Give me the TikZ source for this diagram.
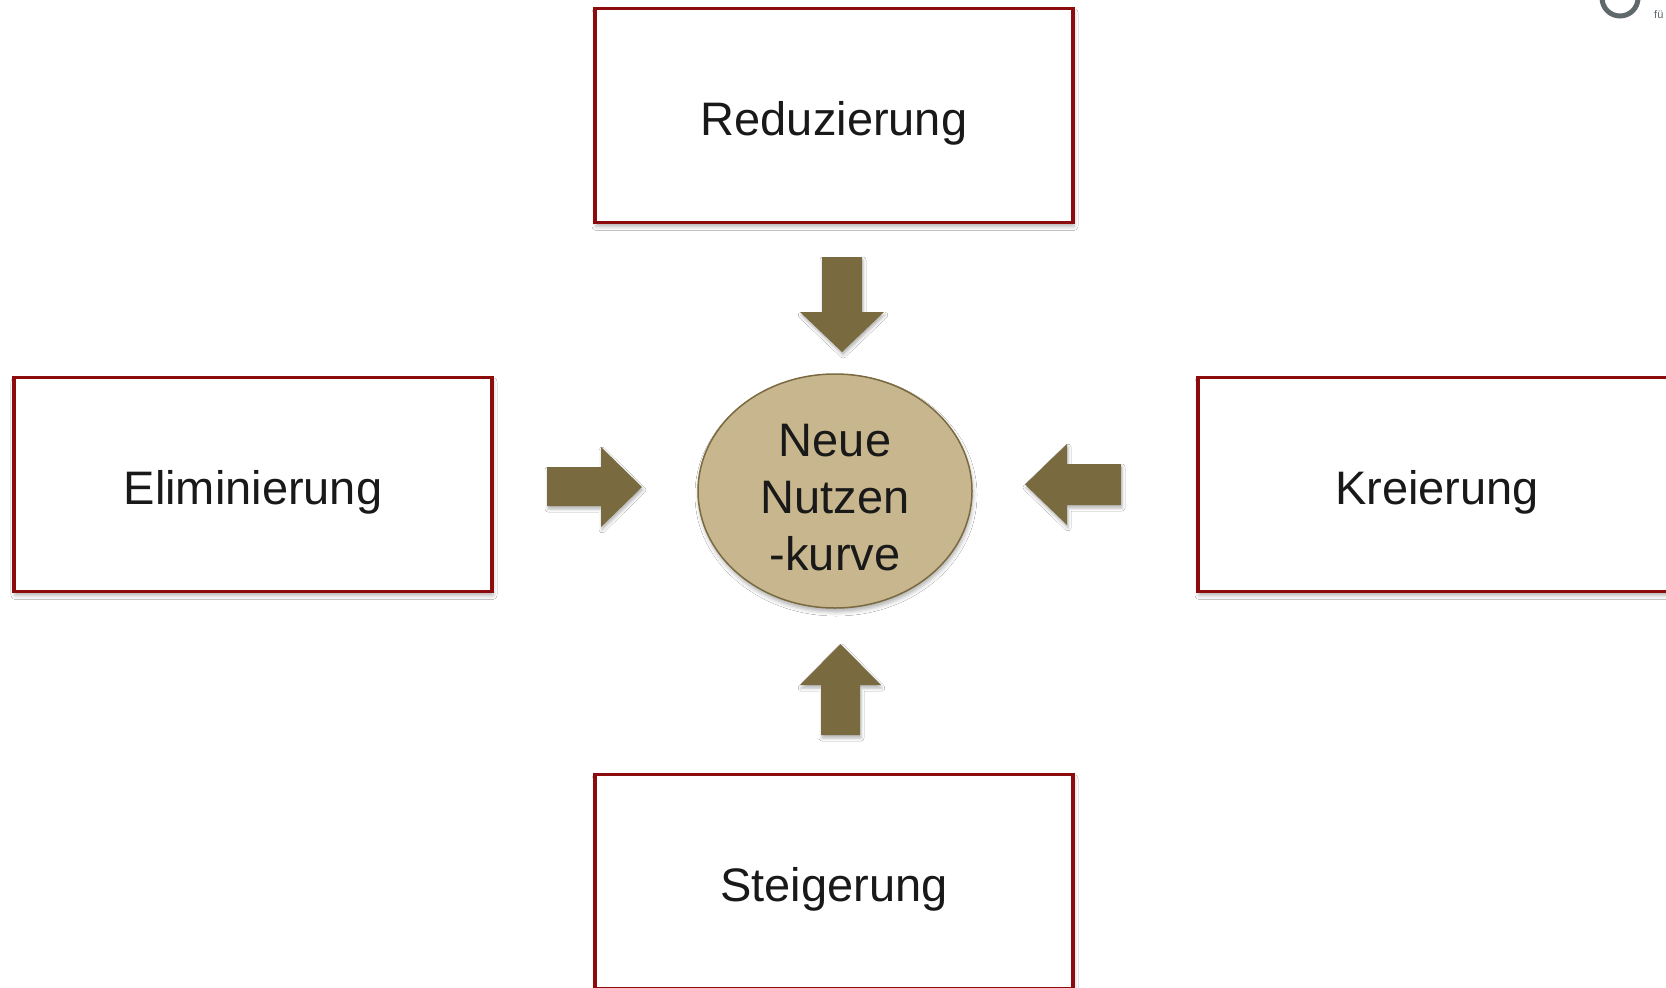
\documentclass[tikz,border=0pt]{standalone}
\usepackage{fontspec}
\setmainfont{Liberation Sans}
\usetikzlibrary{shadows.blur}
\definecolor{boxred}{RGB}{140,12,14}
\definecolor{olive}{RGB}{122,106,64}
\definecolor{tan}{RGB}{200,183,142}
\definecolor{ringgray}{RGB}{95,105,108}
\tikzset{
  box/.style={draw=boxred, line width=3.5pt, fill=white, minimum width=478pt, minimum height=214pt, inner sep=0pt,
    font=\fontsize{47}{57}\selectfont, text=black!90, text height=39pt, text depth=0pt,
    blur shadow={shadow xshift=1pt, shadow yshift=-4pt, shadow blur radius=4pt, shadow opacity=30}},
  core/.style={ellipse, draw=olive, line width=1.5pt, fill=tan, minimum width=274pt, minimum height=234pt, inner sep=0pt,
    font=\fontsize{47}{57}\selectfont, align=center, text=black!90, text height=158pt, text depth=0pt,
    blur shadow={shadow xshift=1pt, shadow yshift=-4pt, shadow blur radius=4pt, shadow opacity=30}},
  blockarrow/.style={fill=olive, draw=none,
    blur shadow={shadow xshift=1pt, shadow yshift=-3pt, shadow blur radius=3pt, shadow opacity=30}}
}
\usetikzlibrary{shapes.geometric}
\begin{document}
\begin{tikzpicture}[x=1pt,y=-1pt]
\useasboundingbox (0,0) rectangle (1666,988);
\clip (0,0) rectangle (1666,988);
\fill[white] (0,0) rectangle (1666,988);
% boxes
\node[box] (red) at (834,115.5) {Reduzierung};
\node[box] (eli) at (253,484.5) {Eliminierung};
\node[box] (kre) at (1437,484.5) {Kreierung};
\node[box] (ste) at (834,881.5) {Steigerung};
% centre
\node[core] (nnk) at (835,491) {Neue\\Nutzen\\-kurve};
% arrows
\fill[blockarrow] (822,257) -- (862,257) -- (862,312) -- (884,312) -- (842,352) -- (800,312) -- (822,312) -- cycle;
\fill[blockarrow] (821,735) -- (860,735) -- (860,685) -- (881,685) -- (840.5,644) -- (800,685) -- (821,685) -- cycle;
\fill[blockarrow] (1121,464) -- (1121,505) -- (1067,505) -- (1067,525) -- (1025,484.5) -- (1067,444) -- (1067,464) -- cycle;
\fill[blockarrow] (547,467) -- (601,467) -- (601,447) -- (642,487) -- (601,527) -- (601,506) -- (547,506) -- cycle;
% corner logo fragment
\draw[ringgray, line width=5pt] (1620,-2) circle[radius=18];
\node[anchor=base west, inner sep=0pt, font=\fontsize{11}{13}\selectfont, text=ringgray] (logo) at (1654,18) {fü};
\end{tikzpicture}
\end{document}
